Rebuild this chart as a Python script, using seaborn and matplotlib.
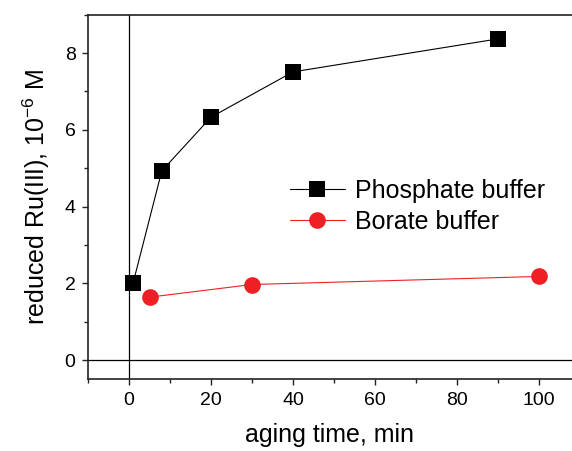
import matplotlib
matplotlib.use("Agg")
import matplotlib.pyplot as plt
import seaborn as sns
import pandas as pd
from matplotlib.ticker import MultipleLocator

phos_time = [1, 8, 20, 40, 90]
phos_val = [2.01, 4.93, 6.33, 7.51, 8.37]
bor_time = [5, 30, 100]
bor_val = [1.64, 1.97, 2.18]
series_names = ["Phosphate buffer", "Borate buffer"]

df = pd.DataFrame({
    "time": phos_time + bor_time,
    "val": phos_val + bor_val,
    "series": [series_names[0]] * len(phos_time) + [series_names[1]] * len(bor_time),
})

sns.set_style("ticks")
plt.rcParams['font.family'] = ['Liberation Sans', 'DejaVu Sans']
plt.rcParams['mathtext.fontset'] = 'custom'
plt.rcParams['mathtext.rm'] = 'Liberation Sans'
plt.rcParams['mathtext.it'] = 'Liberation Sans'
plt.rcParams['text.color'] = 'black'
plt.rcParams['axes.labelcolor'] = 'black'
plt.rcParams['xtick.color'] = 'black'
plt.rcParams['ytick.color'] = 'black'

fig = plt.figure(figsize=(5.72, 4.51), dpi=100)
ax = fig.add_axes([88/572, (451-379.3)/451, (571.8-88)/572, (379.3-14.7)/451])

ax.axvline(0, color='black', lw=0.9, zorder=1)
ax.axhline(0, color='black', lw=0.9, zorder=1)

palette = {series_names[0]: 'black', series_names[1]: '#EE2024'}
sns.lineplot(data=df, x="time", y="val", hue="series", style="series",
             markers={series_names[0]: 's', series_names[1]: 'o'},
             dashes=False, palette=palette, ax=ax, lw=0.8,
             markersize=12, markeredgewidth=0, zorder=3)

ax.set_xlim(-10, 108)
ax.set_ylim(-0.5, 9)
ax.xaxis.set_major_locator(MultipleLocator(20))
ax.xaxis.set_minor_locator(MultipleLocator(10))
ax.yaxis.set_major_locator(MultipleLocator(2))
ax.yaxis.set_minor_locator(MultipleLocator(1))
ax.tick_params(which='major', direction='out', length=4, width=1, labelsize=14,
               color='#222222', labelcolor='black', pad=5)
ax.tick_params(which='minor', direction='out', length=3, width=1, color='#222222')

for s in ['left', 'bottom', 'top']:
    ax.spines[s].set_linewidth(1.2)
    ax.spines[s].set_color('#222222')
ax.spines['right'].set_visible(False)

ax.set_xlabel("aging time, min", fontsize=18, labelpad=10, color='black')
ax.set_ylabel("reduced Ru(III), 10$^{-6}$ M", fontsize=18, labelpad=9, color='black')

leg = ax.legend(loc='center left', bbox_to_anchor=(0.4175, 0.475), frameon=False,
                fontsize=18, handlelength=2.2, handletextpad=0.4, labelspacing=0.28,
                borderaxespad=0, borderpad=0)
for t in leg.get_texts():
    t.set_color('black')

fig.savefig("out.png", dpi=100)
